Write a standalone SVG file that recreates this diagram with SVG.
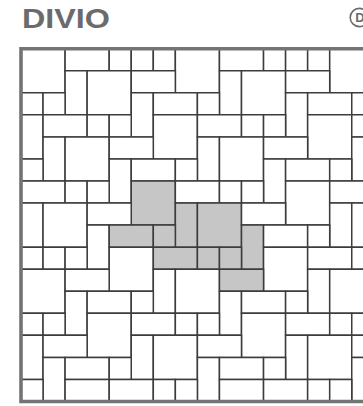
<svg xmlns="http://www.w3.org/2000/svg" width="363" height="406" viewBox="0 0 363 406">
  <style>
    .t { fill: #ffffff; stroke: #3c3c3c; stroke-width: 1.5; vector-effect: non-scaling-stroke; }
    .g { fill: #c6c6c6; stroke: #3c3c3c; stroke-width: 1.5; vector-effect: non-scaling-stroke; }
    .frame { fill: none; stroke: #747474; stroke-width: 3.6; vector-effect: non-scaling-stroke; }
    .title { font-family: "Liberation Sans", Arial, sans-serif; font-weight: bold; fill: #6b6b6b; }
  </style>
  <rect x="0" y="0" width="363" height="406" fill="#ffffff"/>
  <text class="title" x="22" y="27.8" font-size="28.5" textLength="88" lengthAdjust="spacingAndGlyphs">DIVIO</text>
  <g id="badge">
    <circle cx="359.3" cy="17.5" r="9.1" fill="none" stroke="#6b6b6b" stroke-width="1.6"/>
    <text class="title" x="355.3" y="22.2" font-size="13">D</text>
  </g>
  <g id="tiles" transform="translate(21,48.7) scale(22.05)">
    <!-- row 0 -->
    <rect class="t" x="0" y="0" width="2" height="2"/>
    <rect class="t" x="2" y="0" width="2" height="1"/>
    <rect class="t" x="4" y="0" width="1" height="1"/>
    <rect class="t" x="5" y="0" width="1" height="1"/>
    <rect class="t" x="6" y="0" width="1" height="1"/>
    <rect class="t" x="7" y="0" width="2" height="2"/>
    <rect class="t" x="9" y="0" width="2" height="1"/>
    <rect class="t" x="11" y="0" width="1" height="1"/>
    <rect class="t" x="12" y="0" width="1" height="1"/>
    <rect class="t" x="13" y="0" width="1" height="1"/>
    <rect class="t" x="14" y="0" width="2" height="2"/>
    <!-- row 1 -->
    <rect class="t" x="2" y="1" width="1" height="2"/>
    <rect class="t" x="3" y="1" width="2" height="2"/>
    <rect class="t" x="5" y="1" width="2" height="1"/>
    <rect class="t" x="9" y="1" width="1" height="2"/>
    <rect class="t" x="10" y="1" width="2" height="2"/>
    <rect class="t" x="12" y="1" width="2" height="1"/>
    <!-- row 2 -->
    <rect class="t" x="0" y="2" width="1" height="1"/>
    <rect class="t" x="1" y="2" width="1" height="1"/>
    <rect class="t" x="5" y="2" width="1" height="2"/>
    <rect class="t" x="6" y="2" width="2" height="1"/>
    <rect class="t" x="8" y="2" width="1" height="1"/>
    <rect class="t" x="12" y="2" width="1" height="2"/>
    <rect class="t" x="13" y="2" width="2" height="1"/>
    <rect class="t" x="15" y="2" width="1" height="1"/>
    <!-- row 3 -->
    <rect class="t" x="0" y="3" width="1" height="2"/>
    <rect class="t" x="1" y="3" width="2" height="1"/>
    <rect class="t" x="3" y="3" width="1" height="1"/>
    <rect class="t" x="4" y="3" width="1" height="1"/>
    <rect class="t" x="6" y="3" width="2" height="2"/>
    <rect class="t" x="8" y="3" width="2" height="1"/>
    <rect class="t" x="10" y="3" width="1" height="1"/>
    <rect class="t" x="11" y="3" width="1" height="1"/>
    <rect class="t" x="13" y="3" width="2" height="2"/>
    <rect class="t" x="15" y="3" width="2" height="1"/>
    <!-- row 4 -->
    <rect class="t" x="1" y="4" width="1" height="2"/>
    <rect class="t" x="2" y="4" width="2" height="2"/>
    <rect class="t" x="4" y="4" width="2" height="1"/>
    <rect class="t" x="8" y="4" width="1" height="2"/>
    <rect class="t" x="9" y="4" width="2" height="2"/>
    <rect class="t" x="11" y="4" width="2" height="1"/>
    <rect class="t" x="15" y="4" width="1" height="2"/>
    <!-- row 5 -->
    <rect class="t" x="0" y="5" width="1" height="1"/>
    <rect class="t" x="4" y="5" width="1" height="2"/>
    <rect class="t" x="5" y="5" width="2" height="1"/>
    <rect class="t" x="7" y="5" width="1" height="1"/>
    <rect class="t" x="11" y="5" width="1" height="2"/>
    <rect class="t" x="12" y="5" width="2" height="1"/>
    <rect class="t" x="14" y="5" width="1" height="1"/>
    <!-- row 6 -->
    <rect class="t" x="0" y="6" width="2" height="1"/>
    <rect class="t" x="2" y="6" width="1" height="1"/>
    <rect class="t" x="3" y="6" width="1" height="1"/>
    <rect class="g" x="5" y="6" width="2" height="2"/>
    <rect class="t" x="7" y="6" width="2" height="1"/>
    <rect class="t" x="9" y="6" width="1" height="1"/>
    <rect class="t" x="10" y="6" width="1" height="1"/>
    <rect class="t" x="12" y="6" width="2" height="2"/>
    <rect class="t" x="14" y="6" width="2" height="1"/>
    <!-- row 7 -->
    <rect class="t" x="0" y="7" width="1" height="2"/>
    <rect class="t" x="1" y="7" width="2" height="2"/>
    <rect class="t" x="3" y="7" width="2" height="1"/>
    <rect class="g" x="7" y="7" width="1" height="2"/>
    <rect class="g" x="8" y="7" width="2" height="2"/>
    <rect class="t" x="10" y="7" width="2" height="1"/>
    <rect class="t" x="14" y="7" width="1" height="2"/>
    <rect class="t" x="15" y="7" width="2" height="2"/>
    <!-- row 8 -->
    <rect class="t" x="3" y="8" width="1" height="2"/>
    <rect class="g" x="4" y="8" width="2" height="1"/>
    <rect class="g" x="6" y="8" width="1" height="1"/>
    <rect class="g" x="10" y="8" width="1" height="2"/>
    <rect class="t" x="11" y="8" width="2" height="1"/>
    <rect class="t" x="13" y="8" width="1" height="1"/>
    <!-- row 9 -->
    <rect class="t" x="0" y="9" width="1" height="1"/>
    <rect class="t" x="1" y="9" width="1" height="1"/>
    <rect class="t" x="2" y="9" width="1" height="1"/>
    <rect class="t" x="4" y="9" width="2" height="2"/>
    <rect class="g" x="6" y="9" width="2" height="1"/>
    <rect class="g" x="8" y="9" width="1" height="1"/>
    <rect class="g" x="9" y="9" width="1" height="1"/>
    <rect class="t" x="11" y="9" width="2" height="2"/>
    <rect class="t" x="13" y="9" width="2" height="1"/>
    <rect class="t" x="15" y="9" width="1" height="1"/>
    <!-- row 10 -->
    <rect class="t" x="0" y="10" width="2" height="2"/>
    <rect class="t" x="2" y="10" width="2" height="1"/>
    <rect class="t" x="6" y="10" width="1" height="2"/>
    <rect class="t" x="7" y="10" width="2" height="2"/>
    <rect class="g" x="9" y="10" width="2" height="1"/>
    <rect class="t" x="13" y="10" width="1" height="2"/>
    <rect class="t" x="14" y="10" width="2" height="2"/>
    <!-- row 11 -->
    <rect class="t" x="2" y="11" width="1" height="2"/>
    <rect class="t" x="3" y="11" width="2" height="1"/>
    <rect class="t" x="5" y="11" width="1" height="1"/>
    <rect class="t" x="9" y="11" width="1" height="2"/>
    <rect class="t" x="10" y="11" width="2" height="1"/>
    <rect class="t" x="12" y="11" width="1" height="1"/>
    <!-- row 12 -->
    <rect class="t" x="0" y="12" width="1" height="1"/>
    <rect class="t" x="1" y="12" width="1" height="1"/>
    <rect class="t" x="3" y="12" width="2" height="2"/>
    <rect class="t" x="5" y="12" width="2" height="1"/>
    <rect class="t" x="7" y="12" width="1" height="1"/>
    <rect class="t" x="8" y="12" width="1" height="1"/>
    <rect class="t" x="10" y="12" width="2" height="2"/>
    <rect class="t" x="12" y="12" width="2" height="1"/>
    <rect class="t" x="14" y="12" width="1" height="1"/>
    <rect class="t" x="15" y="12" width="1" height="1"/>
    <!-- row 13 -->
    <rect class="t" x="0" y="13" width="1" height="2"/>
    <rect class="t" x="1" y="13" width="2" height="1"/>
    <rect class="t" x="5" y="13" width="1" height="2"/>
    <rect class="t" x="6" y="13" width="2" height="2"/>
    <rect class="t" x="8" y="13" width="2" height="1"/>
    <rect class="t" x="12" y="13" width="1" height="2"/>
    <rect class="t" x="13" y="13" width="2" height="2"/>
    <rect class="t" x="15" y="13" width="2" height="1"/>
    <!-- row 14 -->
    <rect class="t" x="1" y="14" width="1" height="2"/>
    <rect class="t" x="2" y="14" width="2" height="1"/>
    <rect class="t" x="4" y="14" width="1" height="1"/>
    <rect class="t" x="8" y="14" width="1" height="2"/>
    <rect class="t" x="9" y="14" width="2" height="1"/>
    <rect class="t" x="11" y="14" width="1" height="1"/>
    <rect class="t" x="15" y="14" width="1" height="2"/>
    <!-- row 15 -->
    <rect class="t" x="0" y="15" width="1" height="1"/>
    <rect class="t" x="2" y="15" width="2" height="1"/>
    <rect class="t" x="4" y="15" width="2" height="1"/>
    <rect class="t" x="6" y="15" width="1" height="1"/>
    <rect class="t" x="7" y="15" width="1" height="1"/>
    <rect class="t" x="9" y="15" width="2" height="1"/>
    <rect class="t" x="11" y="15" width="2" height="1"/>
    <rect class="t" x="13" y="15" width="1" height="1"/>
    <rect class="t" x="14" y="15" width="1" height="1"/>
    <!-- outer frame -->
    <rect class="frame" x="0" y="0" width="16" height="16"/>
  </g>
</svg>
